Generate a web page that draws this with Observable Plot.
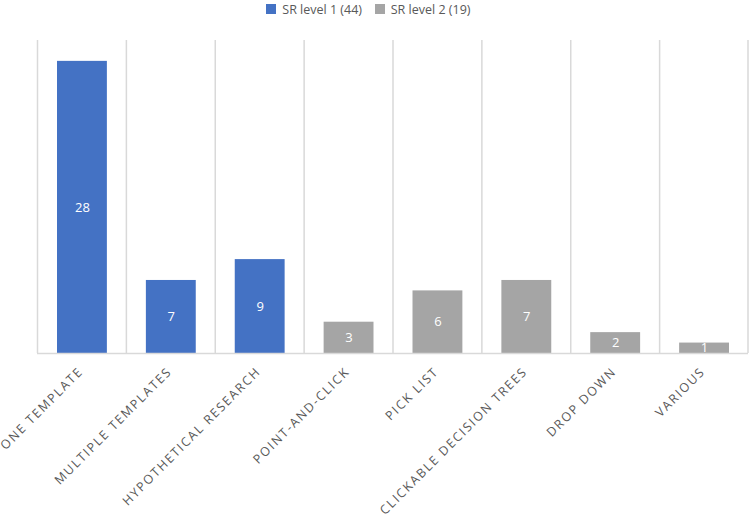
<!DOCTYPE html>
<html>
<head>
<meta charset="utf-8">
<script src="https://cdn.jsdelivr.net/npm/d3@7"></script>
<script src="https://cdn.jsdelivr.net/npm/@observablehq/plot@0.6"></script>
<style>
  html, body { margin: 0; padding: 0; background: #fff; }
  body { width: 749px; height: 516px; overflow: hidden; font-family: "Open Sans", sans-serif; }
  #legend { height: 18px; display: flex; justify-content: center; align-items: center; }
  #legend > * { font-family: "Open Sans", sans-serif !important; font-size: 12.5px !important; color: #595959 !important; margin: 0 !important; min-height: 18px !important; }
  #chart svg g[aria-label="x-axis tick label"] text { letter-spacing: 1.7px; }
</style>
</head>
<body>
<div id="legend"></div>
<div id="chart"></div>
<script>
const categories = ["ONE TEMPLATE", "MULTIPLE TEMPLATES", "HYPOTHETICAL RESEARCH", "POINT-AND-CLICK", "PICK LIST", "CLICKABLE DECISION TREES", "DROP DOWN", "VARIOUS"];
const values = [28, 7, 9, 3, 6, 7, 2, 1];
const series = ["SR level 1 (44)", "SR level 1 (44)", "SR level 1 (44)", "SR level 2 (19)", "SR level 2 (19)", "SR level 2 (19)", "SR level 2 (19)", "SR level 2 (19)"];
const seriesNames = ["SR level 1 (44)", "SR level 2 (19)"];
const seriesColors = ["#4472C4", "#A5A5A5"];
const yMax = 30;

const data = categories.map((c, i) => ({category: c, value: values[i], series: series[i]}));

const width = 749, height = 498;
const marginLeft = 37, marginRight = 1, marginTop = 22, marginBottom = 163;
const step = (width - marginLeft - marginRight) / categories.length;
const gridColor = "#d9d9d9";

const plot = Plot.plot({
  width, height, marginLeft, marginRight, marginTop, marginBottom,
  style: {fontFamily: "Open Sans, sans-serif", color: "#595959", background: "#fff"},
  x: {domain: categories, padding: 0, round: false, label: null},
  y: {domain: [0, yMax], axis: null},
  color: {domain: seriesNames, range: seriesColors},
  marks: [
    Plot.ruleX(categories, {x: d => d, dx: -step / 2, y1: 0, y2: yMax, stroke: gridColor, strokeWidth: 1.5}),
    Plot.ruleX([categories[categories.length - 1]], {x: d => d, dx: step / 2 - 0.5, y1: 0, y2: yMax, stroke: gridColor, strokeWidth: 1.5}),
    Plot.barY(data, {x: "category", y: "value", fill: "series", insetLeft: 20, insetRight: 19}),
    Plot.ruleY([0], {stroke: gridColor, strokeWidth: 1.5}),
    Plot.text(data, {x: "category", y: d => d.value / 2, text: d => String(d.value), fill: "white", fontSize: 13, dx: 0.5}),
    Plot.axisX({tickRotate: -45, tickSize: 0, tickPadding: 16, dx: -1, fontSize: 12.5, fill: "#595959", label: null})
  ]
});

document.getElementById("chart").appendChild(plot);
const leg = plot.legend("color", {legend: "swatches", swatchSize: 10});
document.getElementById("legend").appendChild(leg);
</script>
</body>
</html>
